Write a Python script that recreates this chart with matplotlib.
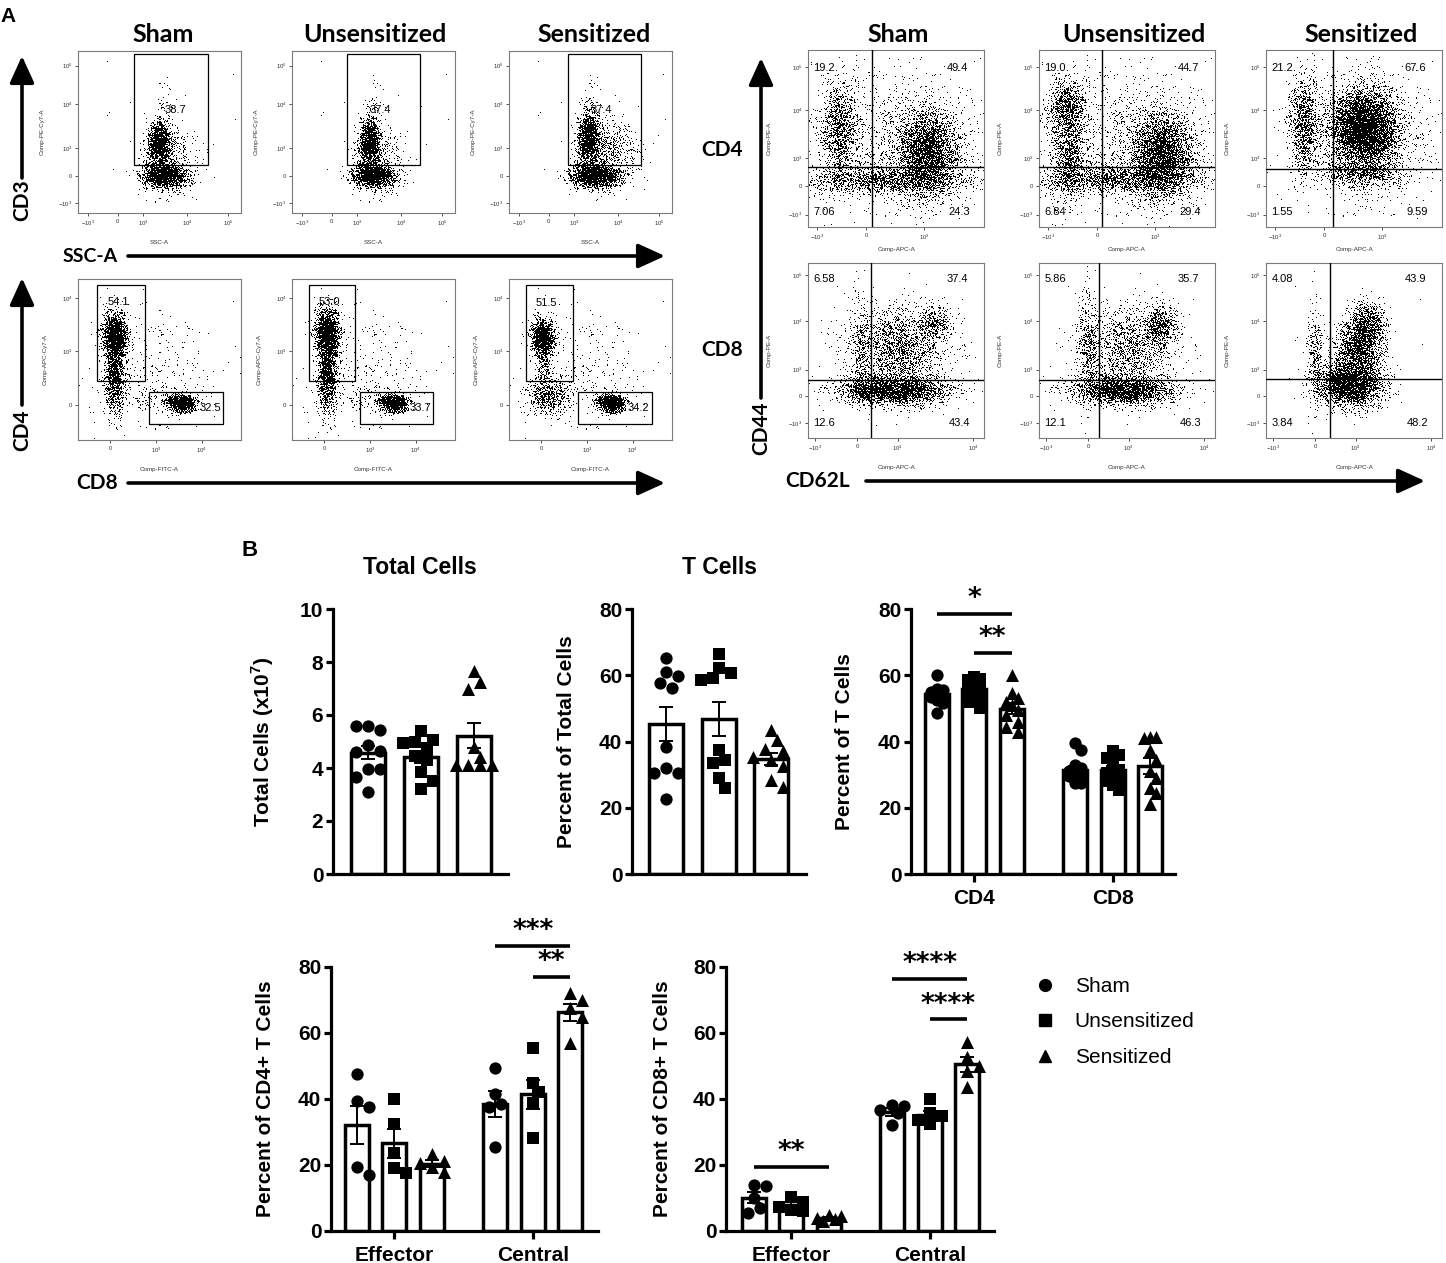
import numpy as np
import matplotlib
matplotlib.use("Agg")
import matplotlib.pyplot as plt
from matplotlib.lines import Line2D
from matplotlib.patches import Rectangle

# ---------------- data: panel B ----------------
groups = ["Sham", "Unsensitized", "Sensitized"]
group_markers = ["o", "s", "^"]

total_means = [4.58, 4.40, 5.22]
total_sems = [0.25, 0.20, 0.46]
total_sham = [5.58, 5.45, 5.58, 4.85, 4.65, 4.60, 3.98, 3.98, 3.65, 3.10]
total_unsens = [5.40, 5.05, 5.00, 4.95, 4.75, 4.45, 4.30, 3.85, 3.50, 3.20]
total_sens = [7.65, 7.25, 7.00, 4.80, 4.40, 4.10, 4.10, 4.10, 4.10]

tcell_means = [45.4, 46.8, 34.6]
tcell_sems = [5.1, 5.0, 1.8]
tcell_sham = [65.2, 61.0, 59.8, 57.8, 56.2, 38.4, 32.0, 30.5, 30.5, 22.6]
tcell_unsens = [66.4, 62.2, 60.7, 59.2, 58.6, 37.4, 34.4, 33.5, 29.0, 26.0]
tcell_sens = [43.5, 40.4, 37.6, 37.2, 35.4, 34.5, 32.5, 28.4, 26.2]

subset_categories = ["CD4", "CD8"]
cd4_means = [54.2, 55.7, 49.9]
cd4_sems = [1.1, 1.1, 1.7]
cd8_means = [31.5, 31.4, 32.6]
cd8_sems = [1.2, 1.3, 2.4]
cd4_sham = [60.0, 56.0, 55.5, 55.0, 54.5, 54.0, 53.5, 52.5, 51.5, 48.5]
cd4_unsens = [59.5, 59.0, 58.5, 57.5, 56.5, 55.5, 54.5, 53.5, 52.0, 50.0]
cd4_sens = [60.2, 54.5, 53.0, 52.0, 51.0, 49.5, 48.0, 46.0, 44.5, 43.0]
cd8_sham = [39.5, 37.5, 33.0, 32.0, 31.0, 30.5, 30.0, 29.5, 27.5, 27.5]
cd8_unsens = [37.0, 36.0, 35.0, 34.0, 31.5, 30.5, 29.0, 28.0, 27.0, 25.5]
cd8_sens = [41.5, 41.5, 41.0, 37.5, 34.5, 31.0, 29.0, 26.0, 24.5, 21.0]

memory_categories = ["Effector", "Central"]
cd4eff_means = [32.2, 26.6, 20.4]
cd4eff_sems = [5.7, 4.4, 1.0]
cd4cen_means = [38.5, 41.4, 66.3]
cd4cen_sems = [4.0, 4.3, 2.6]
cd4eff_sham = [47.5, 39.5, 37.5, 19.5, 17.0]
cd4eff_unsens = [40.0, 32.5, 23.5, 19.0, 17.5]
cd4eff_sens = [23.2, 21.2, 20.5, 19.5, 17.8]
cd4cen_sham = [49.5, 41.5, 38.5, 37.5, 25.5]
cd4cen_unsens = [55.5, 45.0, 42.0, 38.8, 28.2]
cd4cen_sens = [72.0, 70.0, 67.5, 65.0, 57.0]

cd8eff_means = [10.1, 7.9, 4.0]
cd8eff_sems = [1.6, 0.8, 0.35]
cd8cen_means = [36.1, 35.1, 50.5]
cd8cen_sems = [1.1, 1.3, 2.3]
cd8eff_sham = [13.8, 13.5, 10.0, 7.0, 5.6]
cd8eff_unsens = [10.2, 8.8, 7.4, 6.5, 6.0]
cd8eff_sens = [5.0, 4.5, 4.0, 3.5, 3.0]
cd8cen_sham = [38.3, 37.8, 36.8, 35.8, 32.0]
cd8cen_unsens = [40.0, 35.8, 34.8, 33.5, 32.5]
cd8cen_sens = [57.4, 52.8, 50.0, 48.6, 43.6]

# significance: (category index, bar i, bar j, height, label)
sig_subset = [(0, 0, 2, 78.5, "*"), (0, 1, 2, 66.7, "**")]
sig_cd4mem = [(1, 0, 2, 86.4, "***"), (1, 1, 2, 77.0, "**")]
sig_cd8mem = [(0, 0, 2, 19.4, "**"), (1, 0, 2, 76.4, "****"), (1, 1, 2, 64.2, "****")]

# ---------------- data: panel A (flow cytometry) ----------------
cd3_gate_pct = ["38.7", "37.4", "37.4"]
cd4_gate_pct = ["54.1", "53.0", "51.5"]
cd8_gate_pct = ["32.5", "33.7", "34.2"]
cd4_quadrant_pct = [["19.2", "49.4", "7.06", "24.3"],
                    ["19.0", "44.7", "6.84", "29.4"],
                    ["21.2", "67.6", "1.55", "9.59"]]
cd8_quadrant_pct = [["6.58", "37.4", "12.6", "43.4"],
                    ["5.86", "35.7", "12.1", "46.3"],
                    ["4.08", "43.9", "3.84", "48.2"]]

cd3_xticklabels = ["$-10^3$", "0", "$10^3$", "$10^4$", "$10^5$"]
cd3_yticklabels = ["$10^5$", "$10^4$", "$10^3$", "0", "$-10^3$"]
cd48_xticklabels = ["0", "$10^3$", "$10^4$"]
cd48_yticklabels = ["$10^4$", "$10^3$", "0"]
mem_top_xticklabels = ["$-10^3$", "0", "$10^3$"]
mem_bot_xticklabels = ["$-10^3$", "0", "$10^3$", "$10^4$"]
mem_yticklabels = ["$10^5$", "$10^4$", "$10^3$", "0", "$-10^3$"]

# population density components:
# (x centre, y centre, x spread, y spread, density) in plot fractions
cd3_sham_pops = [(0.50, 0.43, 0.033, 0.065, 3.5), (0.53, 0.23, 0.065, 0.035, 4.5),
                 (0.56, 0.33, 0.09, 0.11, 0.25), (0.53, 0.68, 0.03, 0.12, 0.05)]
cd3_unsens_pops = [(0.48, 0.44, 0.033, 0.075, 3.2), (0.50, 0.23, 0.065, 0.035, 4.5),
                   (0.53, 0.33, 0.08, 0.11, 0.25), (0.50, 0.68, 0.03, 0.12, 0.05)]
cd3_sens_pops = [(0.49, 0.46, 0.035, 0.08, 3.2), (0.53, 0.23, 0.075, 0.035, 4.5),
                 (0.62, 0.38, 0.09, 0.10, 0.4), (0.50, 0.70, 0.03, 0.12, 0.06)]

cd48_sham_pops = [(0.23, 0.64, 0.035, 0.07, 4.5), (0.23, 0.38, 0.032, 0.11, 1.7),
                  (0.625, 0.23, 0.045, 0.028, 5.0), (0.42, 0.25, 0.07, 0.035, 0.2),
                  (0.45, 0.45, 0.20, 0.20, 0.04)]
cd48_unsens_pops = [(0.22, 0.66, 0.035, 0.075, 4.3), (0.22, 0.40, 0.032, 0.12, 1.8),
                    (0.62, 0.23, 0.045, 0.028, 5.0), (0.42, 0.25, 0.07, 0.035, 0.18),
                    (0.45, 0.45, 0.20, 0.20, 0.04)]
cd48_sens_pops = [(0.21, 0.63, 0.035, 0.055, 4.2), (0.25, 0.27, 0.065, 0.055, 1.0),
                  (0.625, 0.23, 0.042, 0.028, 5.5), (0.22, 0.45, 0.028, 0.07, 0.5),
                  (0.45, 0.45, 0.20, 0.20, 0.04)]

mem4_sham_pops = [(0.18, 0.55, 0.055, 0.14, 0.8), (0.68, 0.42, 0.085, 0.12, 1.7),
                  (0.45, 0.26, 0.24, 0.04, 0.85), (0.50, 0.50, 0.25, 0.20, 0.12)]
mem4_unsens_pops = [(0.16, 0.68, 0.055, 0.08, 1.1), (0.17, 0.40, 0.05, 0.12, 0.8),
                    (0.70, 0.40, 0.085, 0.12, 1.8), (0.45, 0.27, 0.24, 0.04, 0.85),
                    (0.50, 0.50, 0.25, 0.20, 0.12)]
mem4_sens_pops = [(0.22, 0.58, 0.04, 0.14, 1.0), (0.56, 0.55, 0.095, 0.11, 2.8),
                  (0.55, 0.30, 0.12, 0.04, 0.7), (0.55, 0.50, 0.20, 0.20, 0.12)]

mem8_sham_pops = [(0.50, 0.27, 0.15, 0.04, 2.2), (0.30, 0.27, 0.04, 0.04, 0.8),
                  (0.50, 0.50, 0.14, 0.13, 0.6), (0.72, 0.66, 0.05, 0.05, 0.8),
                  (0.30, 0.50, 0.025, 0.15, 0.35)]
mem8_unsens_pops = [(0.48, 0.27, 0.14, 0.04, 2.2), (0.28, 0.50, 0.03, 0.16, 0.55),
                    (0.69, 0.64, 0.05, 0.06, 1.1), (0.50, 0.50, 0.13, 0.13, 0.45)]
mem8_sens_pops = [(0.28, 0.45, 0.025, 0.14, 0.55), (0.48, 0.30, 0.09, 0.06, 2.6),
                  (0.52, 0.48, 0.07, 0.09, 1.4), (0.58, 0.64, 0.05, 0.07, 1.4)]

# ---------------- figure ----------------
W, H = 1446, 1263
plt.rcParams["font.family"] = ["Liberation Sans", "DejaVu Sans"]
plt.rcParams["mathtext.fontset"] = "custom"
plt.rcParams["mathtext.rm"] = "Liberation Sans"
plt.rcParams["mathtext.bf"] = "Liberation Sans:bold"
fig = plt.figure(figsize=(W / 100, H / 100), dpi=100)

overlay = fig.add_axes([0, 0, 1, 1])
overlay.set_xlim(0, W)
overlay.set_ylim(H, 0)
overlay.axis("off")
overlay.patch.set_alpha(0)


def pax(x0, y0, x1, y1):
    return fig.add_axes([x0 / W, 1 - y1 / H, (x1 - x0) / W, (y1 - y0) / H])


HEAD = ["Lato", "DejaVu Sans"]


def arrow(x0, y0, x1, y1):
    overlay.annotate("", xy=(x1, y1), xytext=(x0, y0),
                     arrowprops=dict(arrowstyle="-|>,head_length=1.1,head_width=0.5",
                                     lw=2.6, color="black", mutation_scale=15,
                                     shrinkA=0, shrinkB=0))


def dither_mask(nx, ny):
    # deterministic hashed threshold mask used to render a density as dots
    I, J = np.meshgrid(np.arange(nx, dtype=np.int64), np.arange(ny, dtype=np.int64))
    h = (I * 374761393 + J * 668265263) & 0xFFFFFFFF
    h = ((h ^ (h >> 13)) * 1274126177) & 0xFFFFFFFF
    h = h ^ (h >> 16)
    return (h % 4096) / 4096.0


def flow_plot(rect, pops, xt, xtl, yt, ytl, xlabel, ylabel, xlpad, ylpad):
    ax = pax(*rect)
    x0, y0, x1, y1 = rect
    nx = int(x1 - x0)
    ny = int(y1 - y0)
    gx = (np.arange(nx) + 0.5) / nx
    gy = (np.arange(ny) + 0.5) / ny
    X, Y = np.meshgrid(gx, gy)
    d = np.zeros_like(X)
    for cx, cy, sx, sy, w in pops:
        d += w * np.exp(-0.5 * (((X - cx) / sx) ** 2 + ((Y - cy) / sy) ** 2))
    p = 1 - np.exp(-d)
    img = (p > dither_mask(nx, ny)).astype(float)
    ax.imshow(img, cmap="Greys", vmin=0, vmax=1, origin="lower", extent=(0, 1, 0, 1),
              interpolation="nearest", aspect="auto", zorder=1)
    ax.set_xlim(0, 1)
    ax.set_ylim(0, 1)
    for s in ax.spines.values():
        s.set_color("#7a7a7a")
        s.set_linewidth(0.8)
    ax.set_xticks(xt)
    ax.set_xticklabels(xtl, fontsize=4.3, color="#333333")
    ax.set_yticks(yt)
    ax.set_yticklabels(ytl, fontsize=4.3, color="#333333")
    ax.tick_params(length=2.5, width=0.6, pad=1.5, colors="#333333")
    ax.set_xlabel(xlabel, fontsize=4.5, labelpad=xlpad, color="#333333")
    ax.set_ylabel(ylabel, fontsize=4.5, labelpad=ylpad, color="#333333")
    return ax


# ----- Panel A, left block -----
overlay.text(8, 16, "A", fontsize=15, fontweight="bold", ha="center", va="center")
for x, g in zip([163, 375, 594], groups):
    overlay.text(x, 34, g, fontsize=18, fontweight="bold", family=HEAD, ha="center", va="center")
for x, g in zip([898, 1134, 1361], groups):
    overlay.text(x, 34, g, fontsize=18, fontweight="bold", family=HEAD, ha="center", va="center")

cd3_pops = [cd3_sham_pops, cd3_unsens_pops, cd3_sens_pops]
cd3_lefts = [78, 292, 509]
cd3_gate_x = [(0.344, 0.798), (0.337, 0.785), (0.362, 0.810)]
cd3_text_x = [0.598, 0.543, 0.568]
for i in range(3):
    L = cd3_lefts[i]
    ax = flow_plot((L, 51, L + 163, 213), cd3_pops[i],
                   [0.06, 0.245, 0.40, 0.67, 0.92], cd3_xticklabels,
                   [0.91, 0.67, 0.40, 0.23, 0.06], cd3_yticklabels,
                   "SSC-A", "Comp-PE-Cy7-A", 9, 10)
    gx0, gx1 = cd3_gate_x[i]
    ax.add_patch(Rectangle((gx0, 0.296), gx1 - gx0, 0.981 - 0.296, fill=False, lw=0.9, ec="black", zorder=3))
    ax.text(cd3_text_x[i], 0.636, cd3_gate_pct[i], fontsize=8, ha="center", va="center", zorder=4)

cd48_pops = [cd48_sham_pops, cd48_unsens_pops, cd48_sens_pops]
cd4_gate_x = [(0.117, 0.41), (0.104, 0.387), (0.104, 0.39)]
cd8_gate_x = [(0.436, 0.89), (0.417, 0.865), (0.423, 0.877)]
cd4_text_xy = [(0.25, 0.86), (0.23, 0.86), (0.23, 0.85)]
cd8_text_xy = [(0.81, 0.20), (0.79, 0.20), (0.795, 0.20)]
for i in range(3):
    L = cd3_lefts[i]
    ax = flow_plot((L, 279, L + 163, 440), cd48_pops[i],
                   [0.196, 0.48, 0.76], cd48_xticklabels,
                   [0.88, 0.55, 0.22], cd48_yticklabels,
                   "Comp-FITC-A", "Comp-APC-Cy7-A", 9, 10)
    a0, a1 = cd4_gate_x[i]
    ax.add_patch(Rectangle((a0, 0.366), a1 - a0, 0.963 - 0.366, fill=False, lw=0.9, ec="black", zorder=3))
    b0, b1 = cd8_gate_x[i]
    ax.add_patch(Rectangle((b0, 0.10), b1 - b0, 0.298 - 0.10, fill=False, lw=0.9, ec="black", zorder=3))
    ax.text(*cd4_text_xy[i], cd4_gate_pct[i], fontsize=8, ha="center", va="center", zorder=4)
    ax.text(*cd8_text_xy[i], cd8_gate_pct[i], fontsize=8, ha="center", va="center", zorder=4)

overlay.text(22, 200, "CD3", fontsize=15, fontweight="bold", family=HEAD, rotation=90, ha="center", va="center")
arrow(22, 178, 22, 56)
overlay.text(118, 256, "SSC-A", fontsize=14, fontweight="bold", family=HEAD, ha="right", va="center")
arrow(128, 256, 665, 256)
overlay.text(22, 430, "CD4", fontsize=15, fontweight="bold", family=HEAD, rotation=90, ha="center", va="center")
arrow(22, 405, 22, 278)
overlay.text(118, 483, "CD8", fontsize=15, fontweight="bold", family=HEAD, ha="right", va="center")
arrow(128, 483, 665, 483)

# ----- Panel A, right block -----
mem_lefts = [808, 1039, 1266]
mem4_pops = [mem4_sham_pops, mem4_unsens_pops, mem4_sens_pops]
mem8_pops = [mem8_sham_pops, mem8_unsens_pops, mem8_sens_pops]
mem4_vline = [0.364, 0.36, 0.38]
mem4_hline = [0.34, 0.34, 0.33]
mem8_vline = [0.358, 0.34, 0.364]
mem8_hline = [0.33, 0.33, 0.335]


def quad_texts(ax, vals, ytop, ybot):
    ax.text(0.03, ytop, vals[0], fontsize=8, ha="left", va="center", zorder=4)
    ax.text(0.91, ytop, vals[1], fontsize=8, ha="right", va="center", zorder=4)
    ax.text(0.03, ybot, vals[2], fontsize=8, ha="left", va="center", zorder=4)
    ax.text(0.92, ybot, vals[3], fontsize=8, ha="right", va="center", zorder=4)


for i in range(3):
    L = mem_lefts[i]
    ax = flow_plot((L, 50, L + 176, 227), mem4_pops[i],
                   [0.05, 0.33, 0.66], mem_top_xticklabels,
                   [0.905, 0.662, 0.389, 0.23, 0.07], mem_yticklabels,
                   "Comp-APC-A", "Comp-PE-A", 4, 12)
    ax.axvline(mem4_vline[i], color="black", lw=1.0, zorder=3)
    ax.axhline(mem4_hline[i], color="black", lw=1.0, zorder=3)
    quad_texts(ax, cd4_quadrant_pct[i], 0.90, 0.085)

    ax = flow_plot((L, 263, L + 176, 438), mem8_pops[i],
                   [0.04, 0.28, 0.51, 0.94], mem_bot_xticklabels,
                   [0.93, 0.667, 0.39, 0.24, 0.086], mem_yticklabels,
                   "Comp-APC-A", "Comp-PE-A", 9, 12)
    ax.axvline(mem8_vline[i], color="black", lw=1.0, zorder=3)
    ax.axhline(mem8_hline[i], color="black", lw=1.0, zorder=3)
    quad_texts(ax, cd8_quadrant_pct[i], 0.91, 0.086)

overlay.text(722, 150, "CD4", fontsize=15, fontweight="bold", family=HEAD, ha="center", va="center")
overlay.text(722, 350, "CD8", fontsize=15, fontweight="bold", family=HEAD, ha="center", va="center")
overlay.text(761, 428, "CD44", fontsize=15, fontweight="bold", family=HEAD, rotation=90, ha="center", va="center")
arrow(761, 398, 761, 58)
overlay.text(850, 481, "CD62L", fontsize=15, fontweight="bold", family=HEAD, ha="right", va="center")
arrow(866, 481, 1425, 481)

# ---------------- Panel B ----------------
overlay.text(250, 550, "B", fontsize=16, fontweight="bold", ha="center", va="center")

MS = {"o": 78, "s": 64, "^": 88}
DIAM = 12.0


def swarm_offsets(vals, ppx, ppy, max_off_px):
    step = DIAM * 0.5
    kmax = max(1, int(max_off_px / step))
    cand = [0]
    for k in range(1, kmax + 1):
        cand += [k, -k]
    placed = []
    offs = []
    for v in vals:
        best, bestd = 0, -1
        for k in cand:
            xo = k * step
            if placed:
                dmin = min(np.hypot(xo - px, (v - py) * ppy) for px, py in placed)
            else:
                dmin = np.inf
            if dmin >= DIAM * 0.95:
                best = xo
                break
            if dmin > bestd:
                bestd, best = dmin, xo
        placed.append((best, v))
        offs.append(best / ppx)
    return np.array(offs)


def style_bar_axes(ax, ymax, ystep):
    for s in ["top", "right"]:
        ax.spines[s].set_visible(False)
    for s in ["left", "bottom"]:
        ax.spines[s].set_linewidth(2.3)
    ax.set_ylim(0, ymax)
    ax.set_yticks(np.arange(0, ymax + 0.01, ystep))
    ax.tick_params(axis="y", length=5, width=2.3, labelsize=15, pad=2)
    ax.tick_params(axis="x", length=6, width=2.3, labelsize=15, pad=5)
    for lab in ax.get_yticklabels() + ax.get_xticklabels():
        lab.set_fontweight("bold")


def draw_bars(ax, centers, means, sems, pts_list, bw, ppx, ppy, max_off):
    for c, m, s, pts, mk in zip(centers, means, sems, pts_list, group_markers):
        ax.bar(c, m, width=bw, facecolor="white", edgecolor="black", linewidth=2.5, zorder=2)
        offs = swarm_offsets(pts, ppx, ppy, max_off)
        ax.scatter(c + offs, pts, marker=mk, s=MS[mk], color="black", linewidths=0,
                   zorder=3, clip_on=False)
        ax.errorbar(c, m, yerr=s, color="black", capsize=5, capthick=1.4, elinewidth=1.4,
                    zorder=4, fmt="none")


def draw_sig(ax, centers_by_cat, sigs):
    for cat, i, j, y, lab in sigs:
        xa = centers_by_cat[cat][i]
        xb = centers_by_cat[cat][j]
        ax.plot([xa, xb], [y, y], color="black", lw=2.6, solid_capstyle="butt", clip_on=False, zorder=5)
        ax.text((xa + xb) / 2, y + 4.4, lab, fontsize=19, fontweight="bold", family="DejaVu Sans",
                ha="center", va="center", clip_on=False, zorder=5)


# chart 1: total cells
ax1 = pax(333, 609, 508, 874)
ppx1 = 53.0
ax1.set_xlim(-(368 - 333) / ppx1, (508 - 368) / ppx1)
style_bar_axes(ax1, 10, 2)
ax1.set_xticks([])
draw_bars(ax1, [0, 1, 2], total_means, total_sems, [total_sham, total_unsens, total_sens],
          34 / ppx1, ppx1, 26.5, 20)
ax1.set_ylabel("Total Cells (x10$^\\mathbf{7}$)", fontsize=15, fontweight="bold")
ax1.yaxis.set_label_coords((276 - 333) / 175, 0.5)
overlay.text(420, 567, "Total Cells", fontsize=16.5, fontweight="bold", ha="center", va="center")

# chart 2: T cells
ax2 = pax(632, 609, 806, 874)
ppx2 = 52.5
ax2.set_xlim(-(666 - 632) / ppx2, (806 - 666) / ppx2)
style_bar_axes(ax2, 80, 20)
ax2.set_xticks([])
draw_bars(ax2, [0, 1, 2], tcell_means, tcell_sems, [tcell_sham, tcell_unsens, tcell_sens],
          34 / ppx2, ppx2, 265 / 80, 20)
ax2.set_ylabel("Percent of Total Cells", fontsize=15, fontweight="bold")
ax2.yaxis.set_label_coords((576 - 632) / 174, 0.5)
overlay.text(719, 567, "T Cells", fontsize=16.5, fontweight="bold", ha="center", va="center")

PPXG = 37.5
GSEP = 3.7
BW = 24 / PPXG


def grouped_chart(rect, center_px, means_a, sems_a, pts_a, means_b, sems_b, pts_b,
                  cats, sigs, ylabel, ylab_px, max_off):
    x0, y0, x1, y1 = rect
    ax = pax(*rect)
    ax.set_xlim((x0 - center_px) / PPXG, (x1 - center_px) / PPXG)
    style_bar_axes(ax, 80, 20)
    ca = [-1, 0, 1]
    cb = [GSEP - 1, GSEP, GSEP + 1]
    draw_bars(ax, ca, means_a, sems_a, pts_a, BW, PPXG, 265 / 80, max_off)
    draw_bars(ax, cb, means_b, sems_b, pts_b, BW, PPXG, 265 / 80, max_off)
    ax.set_xticks([0, GSEP])
    ax.set_xticklabels(cats)
    for lab in ax.get_xticklabels():
        lab.set_fontweight("bold")
    draw_sig(ax, [ca, cb], sigs)
    ax.set_ylabel(ylabel, fontsize=15, fontweight="bold")
    ax.yaxis.set_label_coords((ylab_px - x0) / (x1 - x0), 0.5)
    return ax


ax3 = grouped_chart((911, 609, 1175, 874), 974, cd4_means, cd4_sems,
                    [cd4_sham, cd4_unsens, cd4_sens], cd8_means, cd8_sems,
                    [cd8_sham, cd8_unsens, cd8_sens], subset_categories, sig_subset,
                    "Percent of T Cells", 854, 7)
ax4 = grouped_chart((331, 967, 598, 1231), 394, cd4eff_means, cd4eff_sems,
                    [cd4eff_sham, cd4eff_unsens, cd4eff_sens], cd4cen_means, cd4cen_sems,
                    [cd4cen_sham, cd4cen_unsens, cd4cen_sens], memory_categories, sig_cd4mem,
                    "Percent of CD4+ T Cells", 275, 12)
ax5 = grouped_chart((726, 967, 994, 1231), 791, cd8eff_means, cd8eff_sems,
                    [cd8eff_sham, cd8eff_unsens, cd8eff_sens], cd8cen_means, cd8cen_sems,
                    [cd8cen_sham, cd8cen_unsens, cd8cen_sens], memory_categories, sig_cd8mem,
                    "Percent of CD8+ T Cells", 672, 12)

handles = [Line2D([], [], marker=m, ls="none", color="black",
                  markersize={"o": 8.5, "s": 8, "^": 9}[m]) for m in group_markers]
fig.legend(handles, groups, loc="upper left", bbox_to_anchor=(1035 / W, 1 - 977 / H),
           frameon=False, fontsize=15, handletextpad=0.9, labelspacing=0.79,
           handlelength=1.0, borderpad=0, borderaxespad=0)

fig.savefig("out.png", dpi=100)
